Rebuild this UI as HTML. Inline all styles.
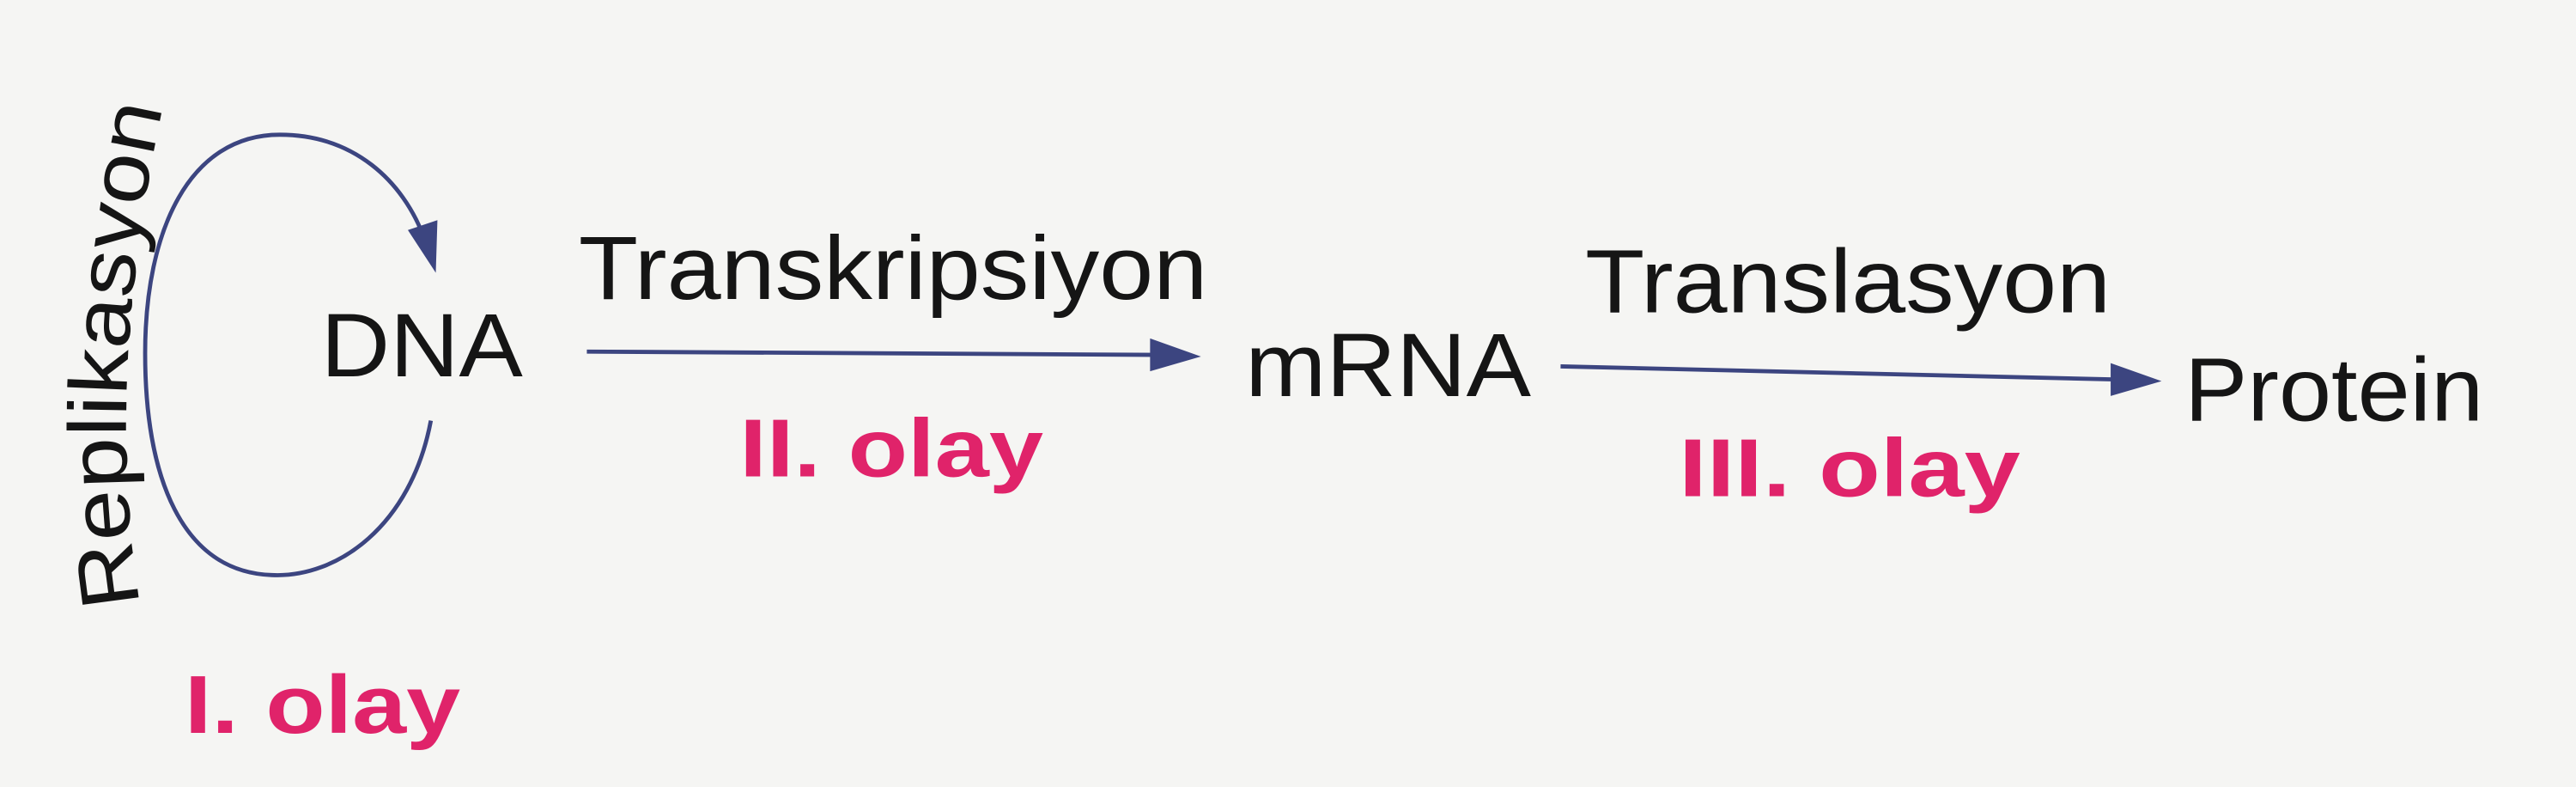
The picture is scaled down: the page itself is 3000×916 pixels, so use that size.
<!DOCTYPE html>
<html><head><meta charset="utf-8"><style>
html,body{margin:0;padding:0;background:#f5f5f3;}
svg{display:block;}
</style></head><body>
<svg width="3000" height="916" viewBox="0 0 1568 479" xmlns="http://www.w3.org/2000/svg">
<defs>
<path id="rp" d="M85,368 Q62,228 101,55"/>
</defs>
<rect width="1568" height="479" fill="#f5f5f3"/>
<g font-family="Liberation Sans, Arial, sans-serif" fill="#151515">
<text font-size="50"><textPath href="#rp" textLength="305" lengthAdjust="spacingAndGlyphs">Replikasyon</textPath></text>
<text x="195" y="229" font-size="55" textLength="123" lengthAdjust="spacingAndGlyphs">DNA</text>
<text x="352" y="182" font-size="55" textLength="383" lengthAdjust="spacingAndGlyphs">Transkripsiyon</text>
<text x="758" y="241" font-size="55" textLength="174" lengthAdjust="spacingAndGlyphs">mRNA</text>
<text x="965" y="190" font-size="55" textLength="320" lengthAdjust="spacingAndGlyphs">Translasyon</text>
<text x="1330" y="256" font-size="55" textLength="182" lengthAdjust="spacingAndGlyphs">Protein</text>
</g>
<g font-family="Liberation Sans, Arial, sans-serif" font-weight="bold" fill="#e0236a">
<text x="450" y="290" font-size="50" textLength="185" lengthAdjust="spacingAndGlyphs">II. olay</text>
<text x="1022" y="302" font-size="50" textLength="208" lengthAdjust="spacingAndGlyphs">III. olay</text>
<text x="112" y="446" font-size="50" textLength="168" lengthAdjust="spacingAndGlyphs">I. olay</text>
</g>
<g stroke="#3c4580" fill="none" stroke-width="2.5">
<path d="M262,256 C250,320 205,352 165,350 C110,348 88,290 88,215 C88,140 115,82 170,82 C215,82 245,110 258,145"/>
<line x1="357" y1="214" x2="705" y2="216"/>
<line x1="950" y1="223" x2="1290" y2="231"/>
</g>
<g fill="#3c4580">
<polygon points="248,140 266,134 265,166"/>
<polygon points="700,206 731,217 700,226"/>
<polygon points="1285,221 1316,232 1285,241"/>
</g>
</svg>
</body></html>
